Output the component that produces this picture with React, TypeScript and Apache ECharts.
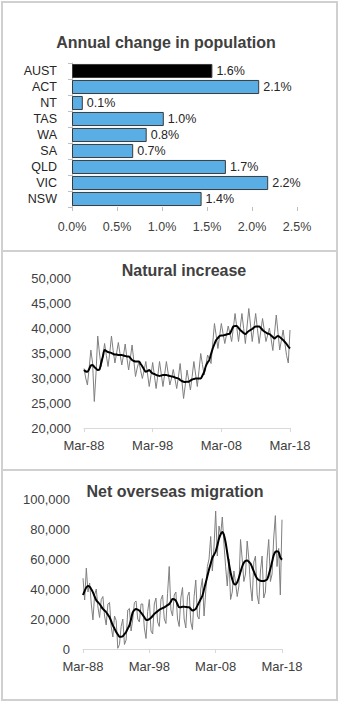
import React, { useEffect, useRef } from "react";
import * as echarts from "echarts";

// ---- Bar chart data (bottom to top) ----
const regions = ["NSW", "VIC", "QLD", "SA", "WA", "TAS", "NT", "ACT", "AUST"];
const annualChange = [1.44, 2.18, 1.71, 0.68, 0.83, 1.02, 0.12, 2.08, 1.56];
const pctTicks = [0, 0.5, 1.0, 1.5, 2.0, 2.5];

// ---- Quarterly time axis ----
const months = ["Mar", "Jun", "Sep", "Dec"];
const firstYear = 1988;
const lastYear = 2018;
const xTickLabels = ["Mar-88", "Mar-98", "Mar-08", "Mar-18"];

// ---- Natural increase (quarterly, original and trend) ----
const naturalRaw = [
  31900, 30000, 28600, 32000,
  35600, 33000, 25300, 31000,
  38400, 35000, 32300, 34500,
  36900, 34500, 32300, 35000,
  38400, 35500, 33000, 35000,
  37100, 34800, 32600, 34500,
  36800, 34000, 31600, 34000,
  36600, 33500, 30300, 32000,
  33300, 31500, 29900, 31500,
  33300, 30800, 28300, 30500,
  33100, 30500, 27900, 30500,
  33300, 30800, 28300, 30800,
  33300, 31000, 28600, 30000,
  31700, 29800, 27900, 30200,
  32900, 29500, 25900, 28600,
  31600, 29600, 27600, 30300,
  33300, 30800, 28300, 31500,
  34900, 32700, 30600, 32500,
  34600, 33800, 32900, 37000,
  40900, 38500, 35900, 38400,
  40900, 38900, 36900, 38600,
  40400, 38900, 37300, 40000,
  42900, 40100, 37300, 40100,
  42900, 39900, 36900, 40400,
  43900, 40600, 37300, 40100,
  42900, 39900, 36900, 39400,
  41900, 39600, 37300, 38600,
  40000, 37800, 35500, 39000,
  42600, 39100, 35600, 37600,
  39600, 37000, 34500, 33000,
  39600,
];
const naturalTrend = [
  31600, 31300, 31250, 31800,
  32500, 32600, 32200, 31900,
  31600, 31700, 33000, 34300,
  35600, 35400, 35200, 35100,
  35000, 34800, 34700, 34700,
  34600, 34600, 34600, 34500,
  34400, 34300, 34300, 34000,
  33600, 33400, 33300, 33300,
  33300, 32800, 32300, 31700,
  31250, 31400, 31600, 31200,
  30900, 30800, 30600, 30500,
  30400, 30500, 30600, 30600,
  30600, 30500, 30400, 30300,
  30250, 30100, 30000, 29900,
  29600, 29400, 29250, 29200,
  29250, 29250, 29500, 29700,
  29800, 29900, 29900, 29900,
  29900, 30500, 31250, 32400,
  33100, 33600, 34800, 35900,
  36800, 37600, 38000, 38400,
  38500, 38500, 38600, 38700,
  38800, 38900, 39600, 40300,
  40400, 40400, 40000, 39600,
  39300, 39000, 38800, 39100,
  39400, 39600, 39800, 40100,
  40300, 40300, 40300, 40000,
  39600, 39300, 39100, 38900,
  38800, 38500, 38200, 37900,
  38200, 38400, 38200, 37900,
  37600, 37200, 36800, 36300,
  35900,
];

// ---- Net overseas migration (quarterly, original and trend) ----
const nomRaw = [
  47200, 32700, 53900, 38000,
  44000, 30000, 19400, 36000,
  40000, 28000, 21000, 33000,
  35000, 22000, 16000, 30000,
  31000, 15000, 8000, 22000,
  19000, 500, 3000, 15000,
  20000, 3000, 6000, 26000,
  27000, 12000, 20000, 31000,
  32000, 20000, 18000, 30000,
  30000, 14000, 7000, 25000,
  33000, 12000, 10000, 30000,
  34000, 18000, 15000, 33000,
  36000, 20000, 17000, 37000,
  55000, 26000, 22000, 36000,
  38000, 20000, 15000, 34000,
  41000, 20000, 14000, 35000,
  38000, 18000, 13000, 35000,
  46000, 22000, 20000, 40000,
  47000, 22000, 38000, 55000,
  60000, 75000, 52000, 68000,
  92000, 62000, 82000, 76000,
  88000, 70000, 55000, 42000,
  60000, 33000, 38000, 52000,
  44000, 35000, 42000, 73000,
  60000, 45000, 50000, 72000,
  60000, 42000, 32000, 58000,
  62000, 36000, 30000, 52000,
  62000, 34000, 38000, 60000,
  73000, 45000, 50000, 74000,
  88900, 55000, 67000, 36000,
  86200,
];
const nomTrend = [
  36000, 38800, 41000, 42000,
  41600, 39800, 37700, 35000,
  32500, 31200, 30000, 28300,
  26700, 25600, 24500, 22800,
  21200, 18500, 15800, 13600,
  11400, 9700, 8200, 8100,
  8500, 9900, 11400, 13600,
  15800, 20000, 24500, 26000,
  26700, 26300, 25600, 24200,
  22800, 21200, 19500, 19400,
  19900, 20800, 22000, 23400,
  24300, 25200, 26100, 26700,
  27300, 27800, 28500, 29200,
  30000, 31600, 33300, 33200,
  32200, 29800, 27800, 27900,
  28100, 28200, 28000, 27900,
  27800, 26700, 25600, 26000,
  26700, 28900, 31100, 33300,
  35500, 39800, 44200, 48600,
  53000, 56800, 60700, 62800,
  65000, 69000, 73500, 76500,
  78000, 76000, 71000, 64000,
  57000, 51000, 46500, 43500,
  43000, 44500, 47500, 51500,
  55000, 57500, 58700, 59000,
  58200, 57000, 54500, 51800,
  49000, 47000, 46000, 45500,
  45300, 45300, 45800, 46400,
  49500, 53500, 58000, 62500,
  64800, 65200, 64500, 61000,
  59500,
];

function buildQuarters(): string[] {
  const out: string[] = [];
  for (let y = firstYear; y <= lastYear; y++) {
    for (let q = 0; q < 4; q++) {
      if (y === lastYear && q > 0) break;
      out.push(months[q] + "-" + String(y).slice(2));
    }
  }
  return out;
}

const FONT = '"Liberation Sans", Arial, sans-serif';
const TXT = "#404040";
const fmtThousands = (v: number) =>
  String(v).replace(/\B(?=(\d{3})+(?!\d))/g, ",");

export default function App() {
  const ref = useRef<HTMLDivElement>(null);

  useEffect(() => {
    if (!ref.current) return;
    const chart = echarts.init(ref.current, undefined, { renderer: "svg" });
    const quarters = buildQuarters();

    const timeXAxis = (gridIndex: number) => ({
      type: "category",
      gridIndex,
      data: quarters,
      boundaryGap: false,
      axisLine: { show: true, lineStyle: { color: "#d9d9d9", width: 1 } },
      axisTick: {
        show: true,
        interval: 39,
        length: 4,
        inside: false,
        lineStyle: { color: "#d9d9d9" },
      },
      axisLabel: {
        interval: 39,
        margin: 11,
        color: TXT,
        fontSize: 13,
        fontFamily: FONT,
        formatter: (v: string) => (xTickLabels.indexOf(v) >= 0 ? v : ""),
      },
      splitLine: { show: false },
    });

    const option: any = {
      animation: false,
      backgroundColor: "#ffffff",
      textStyle: { fontFamily: FONT },
      grid: [
        { left: 72, top: 63, width: 225, height: 144 },
        { left: 84, top: 278, width: 206, height: 150 },
        { left: 83, top: 499, width: 199, height: 150 },
      ],
      xAxis: [
        {
          type: "value",
          gridIndex: 0,
          min: pctTicks[0],
          max: pctTicks[pctTicks.length - 1],
          interval: 0.5,
          axisLine: { show: false },
          axisTick: { show: true, length: 4, lineStyle: { color: "#bfbfbf" } },
          splitLine: { show: false },
          axisLabel: {
            margin: 13,
            color: TXT,
            fontSize: 12.5,
            fontFamily: FONT,
            formatter: (v: number) => v.toFixed(1) + "%",
          },
        },
        timeXAxis(1),
        timeXAxis(2),
      ],
      yAxis: [
        {
          type: "category",
          gridIndex: 0,
          data: regions,
          axisLine: { show: true, lineStyle: { color: "#bfbfbf" } },
          axisTick: { show: true, length: 4, lineStyle: { color: "#bfbfbf" } },
          axisLabel: {
            interval: 0,
            margin: 15,
            color: "#262626",
            fontSize: 12.5,
            fontFamily: FONT,
          },
        },
        {
          type: "value",
          gridIndex: 1,
          min: 20000,
          max: 50000,
          interval: 5000,
          axisLine: { show: false },
          axisTick: { show: false },
          splitLine: { show: false },
          axisLabel: {
            margin: 13,
            color: TXT,
            fontSize: 13,
            fontFamily: FONT,
            formatter: fmtThousands,
          },
        },
        {
          type: "value",
          gridIndex: 2,
          min: 0,
          max: 100000,
          interval: 20000,
          axisLine: { show: false },
          axisTick: { show: false },
          splitLine: { show: false },
          axisLabel: {
            margin: 13,
            color: TXT,
            fontSize: 13,
            fontFamily: FONT,
            formatter: fmtThousands,
          },
        },
      ],
      series: [
        {
          type: "bar",
          xAxisIndex: 0,
          yAxisIndex: 0,
          barCategoryGap: "12%",
          data: annualChange.map((v, i) => ({
            value: v,
            itemStyle: {
              color: regions[i] === "AUST" ? "#000000" : "#5aaee6",
              borderColor: "#3a3a3a",
              borderWidth: 1,
            },
          })),
          label: {
            show: true,
            position: "right",
            distance: 4,
            color: "#262626",
            fontSize: 12.5,
            fontFamily: FONT,
            formatter: (p: any) => Number(p.value).toFixed(1) + "%",
          },
        },
        {
          type: "line",
          xAxisIndex: 1,
          yAxisIndex: 1,
          data: naturalRaw,
          showSymbol: false,
          symbol: "none",
          lineStyle: { color: "#7f7f7f", width: 1 },
          z: 2,
        },
        {
          type: "line",
          xAxisIndex: 1,
          yAxisIndex: 1,
          data: naturalTrend,
          showSymbol: false,
          symbol: "none",
          smooth: 0.3,
          lineStyle: { color: "#000000", width: 2 },
          z: 3,
        },
        {
          type: "line",
          xAxisIndex: 2,
          yAxisIndex: 2,
          data: nomRaw,
          showSymbol: false,
          symbol: "none",
          lineStyle: { color: "#7f7f7f", width: 1 },
          z: 2,
        },
        {
          type: "line",
          xAxisIndex: 2,
          yAxisIndex: 2,
          data: nomTrend,
          showSymbol: false,
          symbol: "none",
          smooth: 0.3,
          lineStyle: { color: "#000000", width: 2 },
          z: 3,
        },
      ],
      graphic: [
        {
          type: "rect",
          shape: { x: 2, y: 2, width: 335, height: 249 },
          style: { fill: "none", stroke: "#d0d0d0", lineWidth: 2 },
          silent: true,
        },
        {
          type: "rect",
          shape: { x: 2, y: 251, width: 335, height: 219 },
          style: { fill: "none", stroke: "#d0d0d0", lineWidth: 2 },
          silent: true,
        },
        {
          type: "rect",
          shape: { x: 2, y: 470, width: 335, height: 230 },
          style: { fill: "none", stroke: "#d0d0d0", lineWidth: 2 },
          silent: true,
        },
        {
          type: "text",
          x: 166,
          y: 42,
          style: {
            text: "Annual change in population",
            fill: TXT,
            fontSize: 16,
            fontWeight: "bold",
            fontFamily: FONT,
            textAlign: "center",
            textVerticalAlign: "middle",
          },
        },
        {
          type: "text",
          x: 184,
          y: 270,
          style: {
            text: "Natural increase",
            fill: TXT,
            fontSize: 16,
            fontWeight: "bold",
            fontFamily: FONT,
            textAlign: "center",
            textVerticalAlign: "middle",
          },
        },
        {
          type: "text",
          x: 175,
          y: 491,
          style: {
            text: "Net overseas migration",
            fill: TXT,
            fontSize: 16,
            fontWeight: "bold",
            fontFamily: FONT,
            textAlign: "center",
            textVerticalAlign: "middle",
          },
        },
      ],
    };

    chart.setOption(option);
    return () => chart.dispose();
  }, []);

  return (
    <div
      ref={ref}
      style={{ position: "fixed", left: 0, top: 0, width: 360, height: 702 }}
    />
  );
}
